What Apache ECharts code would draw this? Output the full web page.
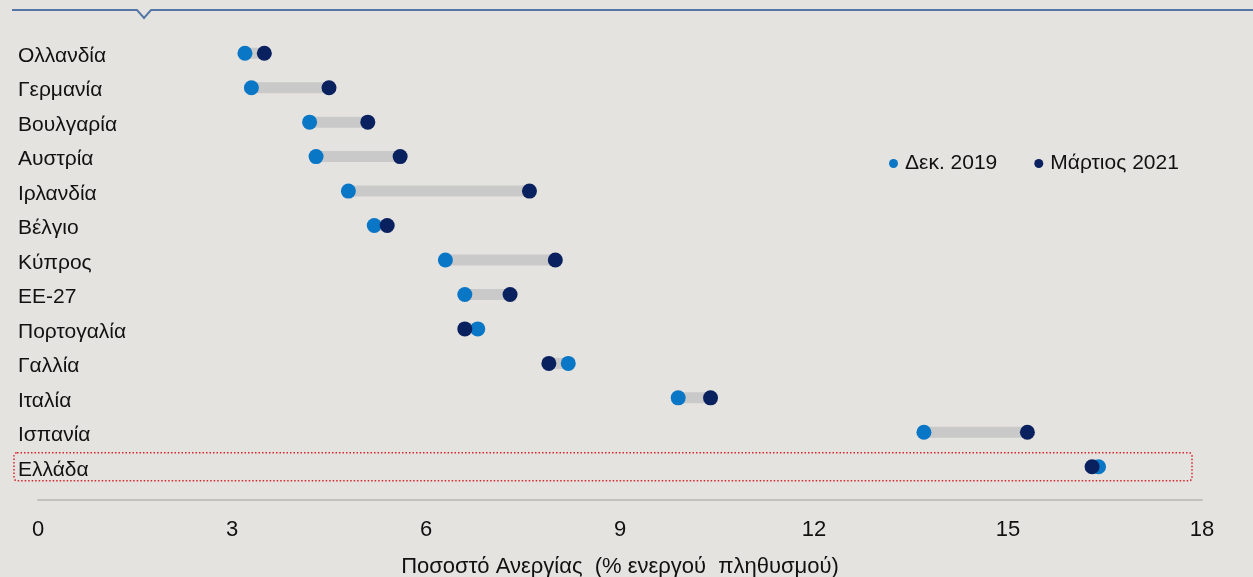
<!DOCTYPE html>
<html>
<head>
<meta charset="utf-8">
<script src="https://cdn.jsdelivr.net/npm/echarts@6/dist/echarts.min.js"></script>
<style>
  html, body { margin: 0; padding: 0; background: #e4e3df; }
  #chart { width: 1253px; height: 577px; }
</style>
</head>
<body>
<div id="chart"></div>
<script>
// countries, top to bottom
const countries = ['Ολλανδία', 'Γερμανία', 'Βουλγαρία', 'Αυστρία', 'Ιρλανδία', 'Βέλγιο', 'Κύπρος',
  'ΕΕ-27', 'Πορτογαλία', 'Γαλλία', 'Ιταλία', 'Ισπανία', 'Ελλάδα'];
const dec2019 = [3.2, 3.3, 4.2, 4.3, 4.8, 5.2, 6.3, 6.6, 6.8, 8.2, 9.9, 13.7, 16.4];
const mar2021 = [3.5, 4.5, 5.1, 5.6, 7.6, 5.4, 8.0, 7.3, 6.6, 7.9, 10.4, 15.3, 16.3];
const xTicks = [0, 3, 6, 9, 12, 15, 18];

const LIGHT = '#0a76c6';
const DARK = '#0a215f';
const font = 'Liberation Sans, Arial, sans-serif';

const chart = echarts.init(document.getElementById('chart'));

const rangeData = countries.map((c, i) => [i, dec2019[i], mar2021[i]]);

chart.setOption({
  backgroundColor: '#e4e3df',
  animation: false,
  textStyle: { fontFamily: font },
  grid: { left: 38, right: 51, top: 36, bottom: 93, outerBoundsMode: 'none', containLabel: false },
  legend: {
    left: 884, top: 148,
    itemWidth: 9, itemHeight: 9, itemGap: 37,
    icon: 'circle',
    textStyle: { fontSize: 21, color: '#111', fontFamily: font, padding: [3, 0, 0, 2] },
    data: ['Δεκ. 2019', 'Μάρτιος 2021']
  },
  xAxis: {
    type: 'value',
    min: 0, max: 18, interval: 3,
    offset: 16,
    axisLine: { show: true, lineStyle: { color: '#c2c1be', width: 2 } },
    axisTick: { show: false },
    splitLine: { show: false },
    axisLabel: {
      fontSize: 22, color: '#111', margin: 19,
      formatter: v => xTicks.includes(v) ? String(v) : ''
    },
    name: 'Ποσοστό Ανεργίας  (% ενεργού  πληθυσμού)',
    nameLocation: 'middle',
    nameGap: 56,
    nameTextStyle: { fontSize: 22, color: '#111', fontFamily: font }
  },
  yAxis: {
    type: 'category',
    inverse: true,
    data: countries,
    axisLine: { show: false },
    axisTick: { show: false },
    axisLabel: {
      align: 'left', margin: 20,
      formatter: v => '{c|' + v + '}',
      rich: { c: { fontSize: 21, color: '#111', fontFamily: font, padding: [6, 0, 0, 0] } }
    }
  },
  series: [
    {
      type: 'custom',
      silent: true,
      renderItem: (params, api) => {
        const a = api.coord([api.value(1), api.value(0)]);
        const b = api.coord([api.value(2), api.value(0)]);
        const h = 11;
        return {
          type: 'rect',
          shape: { x: Math.min(a[0], b[0]), y: a[1] - h / 2, width: Math.abs(b[0] - a[0]), height: h },
          style: { fill: '#c9c9c9' }
        };
      },
      encode: { x: [1, 2], y: 0 },
      data: rangeData,
      z: 1
    },
    {
      name: 'Δεκ. 2019',
      type: 'scatter',
      symbolSize: 15,
      itemStyle: { color: LIGHT, opacity: 1 },
      data: dec2019.map((v, i) => [v, countries[i]]),
      z: 2
    },
    {
      name: 'Μάρτιος 2021',
      type: 'scatter',
      symbolSize: 15,
      itemStyle: { color: DARK, opacity: 1 },
      data: mar2021.map((v, i) => [v, countries[i]]),
      z: 3
    }
  ]
});

// decorations: header rule with notch, dotted box around Greece
const gy = chart.convertToPixel({ yAxisIndex: 0 }, 'Ελλάδα');
chart.setOption({
  graphic: [
    {
      type: 'polyline',
      shape: { points: [[12, 10], [137, 10], [144, 18], [151, 10], [1253, 10]] },
      style: { stroke: '#5677a6', lineWidth: 2, fill: null }
    },
    {
      type: 'rect',
      shape: { x: 14, y: gy - 14, width: 1178, height: 28, r: 3 },
      style: { stroke: '#d6262b', lineWidth: 1.5, lineDash: [1.5, 2], fill: null }
    }
  ]
});
</script>
</body>
</html>
